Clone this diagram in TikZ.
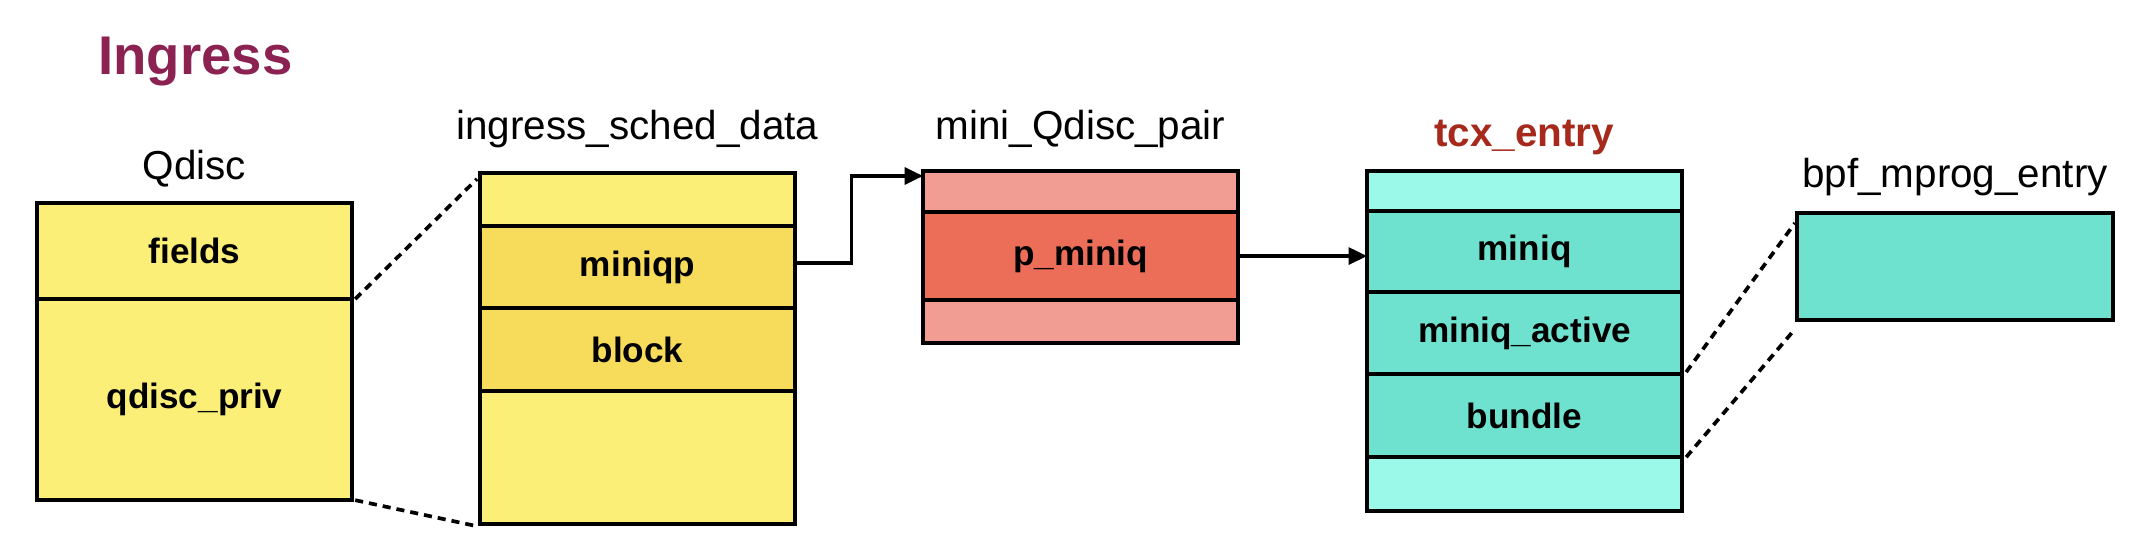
\documentclass[tikz,border=0pt]{standalone}
\usepackage{fontspec}
\setmainfont{Liberation Sans}
\usepackage{xcolor}
\usetikzlibrary{arrows.meta,positioning,calc}
\definecolor{qyellow}{HTML}{FBEF77}
\definecolor{qgold}{HTML}{F7DB5A}
\definecolor{mpink}{HTML}{F19D93}
\definecolor{mred}{HTML}{EC6E59}
\definecolor{tcyan}{HTML}{9BF9E9}
\definecolor{tteal}{HTML}{6EE2CF}
\definecolor{ingmaroon}{HTML}{8B2252}
\definecolor{tcxred}{HTML}{A6291B}

\begin{document}
\begin{tikzpicture}[x=0.01cm,y=-0.01cm,
  cell/.style={draw, line width=1pt, minimum width=3.15cm, inner sep=0pt, outer sep=0pt, font=\fontsize{10}{12}\selectfont\bfseries},
  lbl/.style={anchor=base, font=\fontsize{11.5}{13}\selectfont},
  ptr/.style={-{Triangle[length=5.2pt,width=4.8pt]}, line width=0.9pt},
  zoomline/.style={line width=1.05pt, dash pattern=on 2.3pt off 1.7pt}]
  \useasboundingbox (0,0) rectangle (2150,558);
  \node[anchor=base west, font=\fontsize{15.5}{18}\selectfont\bfseries\color{ingmaroon}] (ingress) at (86,75) {Ingress};
  \node[lbl] (qdisclbl) at (194.5,180) {Qdisc};
  \node[lbl] (isdlbl) at (637.5,140) {ingress\_sched\_data};
  \node[lbl] (mqplbl) at (1080.5,140) {mini\_Qdisc\_pair};
  \node[lbl, font=\fontsize{11.5}{13}\selectfont\bfseries\color{tcxred}] (tcxlbl) at (1524,147) {tcx\_entry};
  \node[lbl] (bpflbl) at (1955,188) {bpf\_mprog\_entry};
  \node (qfields) [cell, fill=qyellow, minimum height=0.96cm, anchor=north west] at (37,203) {fields};
  \node (qpriv) [cell, fill=qyellow, minimum height=2.01cm, below=0pt of qfields] {qdisc\_priv};
  \node (itop) [cell, fill=qyellow, minimum height=0.53cm, anchor=north west] at (480,173) {};
  \node (miniqp) [cell, fill=qgold, minimum height=0.82cm, below=0pt of itop] {miniqp};
  \node (block) [cell, fill=qgold, minimum height=0.83cm, below=0pt of miniqp] {block};
  \node (ibot) [cell, fill=qyellow, minimum height=1.33cm, below=0pt of block] {};
  \node (mtop) [cell, fill=mpink, minimum height=0.41cm, anchor=north west] at (923,171) {};
  \node (pminiq) [cell, fill=mred, minimum height=0.88cm, below=0pt of mtop] {p\_miniq};
  \node (mbot) [cell, fill=mpink, minimum height=0.43cm, below=0pt of pminiq] {};
  \node (ttop) [cell, fill=tcyan, minimum height=0.40cm, anchor=north west] at (1367,171) {};
  \node (miniq) [cell, fill=tteal, minimum height=0.81cm, below=0pt of ttop] {miniq};
  \node (miniqact) [cell, fill=tteal, minimum height=0.82cm, below=0pt of miniq] {miniq\_active};
  \node (bundle) [cell, fill=tteal, minimum height=0.83cm, below=0pt of miniqact] {bundle};
  \node (tbot) [cell, fill=tcyan, minimum height=0.54cm, below=0pt of bundle] {};
  \node (bpf) [cell, fill=tteal, minimum width=3.16cm, minimum height=1.07cm, anchor=north west] at (1797,213) {};
  \draw[ptr] ($(miniqp.east)+(0,-4)$) -- ++(56,0) |- ($(mtop.north west)+(0,5)$);
  \draw[ptr] (pminiq.east) -- (pminiq.east -| miniq.west);
  \draw[zoomline] ($(qpriv.north east)+(3,0)$) -- ($(itop.north west)+(-3,6)$);
  \draw[zoomline] ($(qpriv.south east)+(3,0)$) -- ($(ibot.south west)+(-3,2)$);
  \draw[zoomline] ($(bundle.north east)+(4,-2)$) -- ($(bpf.north west)+(-2,10)$);
  \draw[zoomline] ($(bundle.south east)+(4,0)$) -- ($(bpf.south west)+(-2,9)$);
\end{tikzpicture}
\end{document}
